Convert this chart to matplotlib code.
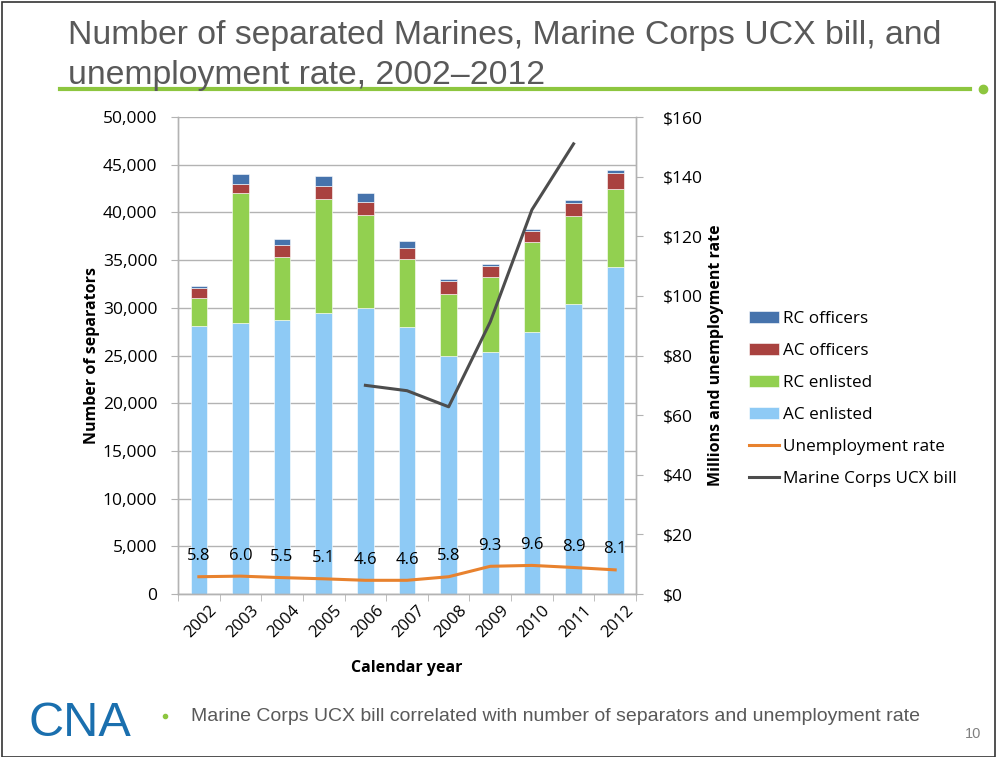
import matplotlib.pyplot as plt
import numpy as np
from matplotlib.transforms import ScaledTranslation

# data
years = ['2002', '2003', '2004', '2005', '2006', '2007', '2008', '2009', '2010', '2011', '2012']
ac_enlisted = [28100, 28400, 28700, 29500, 29950, 28000, 24900, 25400, 27500, 30400, 34250]
rc_enlisted = [2950, 13650, 6600, 11900, 9750, 7100, 6600, 7800, 9400, 9200, 8200]
ac_officers = [1050, 950, 1250, 1400, 1350, 1200, 1300, 1200, 1150, 1350, 1650]
rc_officers = [200, 1000, 650, 1000, 940, 700, 200, 150, 210, 350, 340]
unemployment = [5.8, 6.0, 5.5, 5.1, 4.6, 4.6, 5.8, 9.3, 9.6, 8.9, 8.1]
ucx_bill = [np.nan, np.nan, np.nan, np.nan, 70.0, 68.2, 62.8, 91.3, 128.9, 151.0, np.nan]

c_rco = '#4673ac'
c_aco = '#a9423f'
c_rce = '#92d050'
c_ace = '#8ecaf5'
c_unemp = '#e8822e'
c_ucx = '#4d4d4d'
grid_c = '#b3b3b3'
text_c = '#595959'

plt.rcParams['font.family'] = ['Open Sans', 'DejaVu Sans']

fig = plt.figure(figsize=(10.03, 7.57), dpi=100)
ax = fig.add_axes([0.1775, 0.2153, 0.4566, 0.6301])
ax2 = ax.twinx()

x = np.arange(len(years))
w = 0.4
b1 = np.array(ac_enlisted)
b2 = b1 + np.array(rc_enlisted)
b3 = b2 + np.array(ac_officers)
ax.bar(x, ac_enlisted, w, color=c_ace, edgecolor='white', linewidth=0.4, label='AC enlisted', zorder=2)
ax.bar(x, rc_enlisted, w, bottom=b1, color=c_rce, edgecolor='white', linewidth=0.4, label='RC enlisted', zorder=2)
ax.bar(x, ac_officers, w, bottom=b2, color=c_aco, edgecolor='white', linewidth=0.4, label='AC officers', zorder=2)
ax.bar(x, rc_officers, w, bottom=b3, color=c_rco, edgecolor='white', linewidth=0.4, label='RC officers', zorder=2)

ax2.plot(x, unemployment, color=c_unemp, linewidth=2.2, label='Unemployment rate', zorder=3)
ax2.plot(x, ucx_bill, color=c_ucx, linewidth=2.2, label='Marine Corps UCX bill', zorder=3)
for i, v in enumerate(unemployment):
    ax2.annotate('%.1f' % v, (x[i], v), xytext=(0, 9), textcoords='offset points',
                 ha='center', va='bottom', fontsize=12, color='black')

# axes styling
ax.set_xlim(-0.5, len(years) - 0.5)
ax.set_ylim(0, 50000)
ax.set_yticks(np.arange(0, 50001, 5000))
ax.set_yticklabels(['{:,}'.format(v) for v in range(0, 50001, 5000)], fontsize=12.5)
ax2.set_ylim(0, 160)
ax2.set_yticks(np.arange(0, 161, 20))
ax2.set_yticklabels(['$%d' % v for v in range(0, 161, 20)], fontsize=12.5)
ax.set_xticks(x)
ax.set_xticklabels(years, rotation=45, ha='right', va='top', rotation_mode='anchor', fontsize=12)
ax.tick_params(axis='x', length=0, pad=6)
shift = ScaledTranslation(10 / 100, 0, fig.dpi_scale_trans)
for lab in ax.get_xticklabels():
    lab.set_transform(lab.get_transform() + shift)
ax.set_xticks(np.arange(-0.5, len(years)), minor=True)
ax.tick_params(axis='x', which='minor', length=5, color=grid_c)
ax.tick_params(axis='y', length=5, color=grid_c, pad=10)
ax2.tick_params(axis='y', length=5, color=grid_c, pad=14)
ax.grid(axis='y', color=grid_c, linewidth=1, zorder=0)
ax.set_axisbelow(True)
for a in (ax, ax2):
    a.spines['top'].set_visible(False)
    for s in ('left', 'right', 'bottom'):
        a.spines[s].set_color(grid_c)
        a.spines[s].set_linewidth(1)

ax.set_xlabel('Calendar year', fontsize=11.5, fontweight='bold', labelpad=14)
ax.set_ylabel('Number of separators', fontsize=11.5, fontweight='bold', labelpad=2)
ax2.set_ylabel('Millions and unemployment rate', fontsize=11.5, fontweight='bold', labelpad=4)

# legend
h1, l1 = ax.get_legend_handles_labels()
h2, l2 = ax2.get_legend_handles_labels()
order = [3, 2, 1, 0]
handles = [h1[i] for i in order] + h2
labels = [l1[i] for i in order] + l2
fig.legend(handles, labels, loc='upper left', bbox_to_anchor=(0.731, 0.609), frameon=False,
           fontsize=12.3, handlelength=1.8, handleheight=0.7, handletextpad=0.2, labelspacing=0.93)

# slide decoration
fig.text(0.068, 0.953, 'Number of separated Marines, Marine Corps UCX bill, and', fontsize=24.3,
         color=text_c, family='Liberation Sans', va='center', ha='left')
fig.text(0.068, 0.9, 'unemployment rate, 2002\u20132012', fontsize=24.3,
         color=text_c, family='Liberation Sans', va='center', ha='left')
fig.add_artist(plt.Line2D([0.06, 0.967], [0.882, 0.882], color='#8dc63f', linewidth=3))
fig.add_artist(plt.Line2D([0.98], [0.882], marker='o', color='#8dc63f', markersize=6))
fig.text(0.028, 0.044, 'CNA', fontsize=35, color='#1a6fae', family='Liberation Sans', va='center', ha='left')
fig.add_artist(plt.Line2D([0.165], [0.054], marker='o', color='#8dc63f', markersize=3))
fig.text(0.19, 0.053, 'Marine Corps UCX bill correlated with number of separators and unemployment rate',
         fontsize=14, color=text_c, family='Liberation Sans', va='center', ha='left')
fig.text(0.962, 0.03, '10', fontsize=10.5, color='#808080', family='Liberation Sans', va='center', ha='left')
fig.add_artist(plt.Rectangle((0.002, 0.0), 0.99, 0.997, fill=False, edgecolor='#333333', linewidth=1.2))

plt.savefig('out.png', dpi=100)
